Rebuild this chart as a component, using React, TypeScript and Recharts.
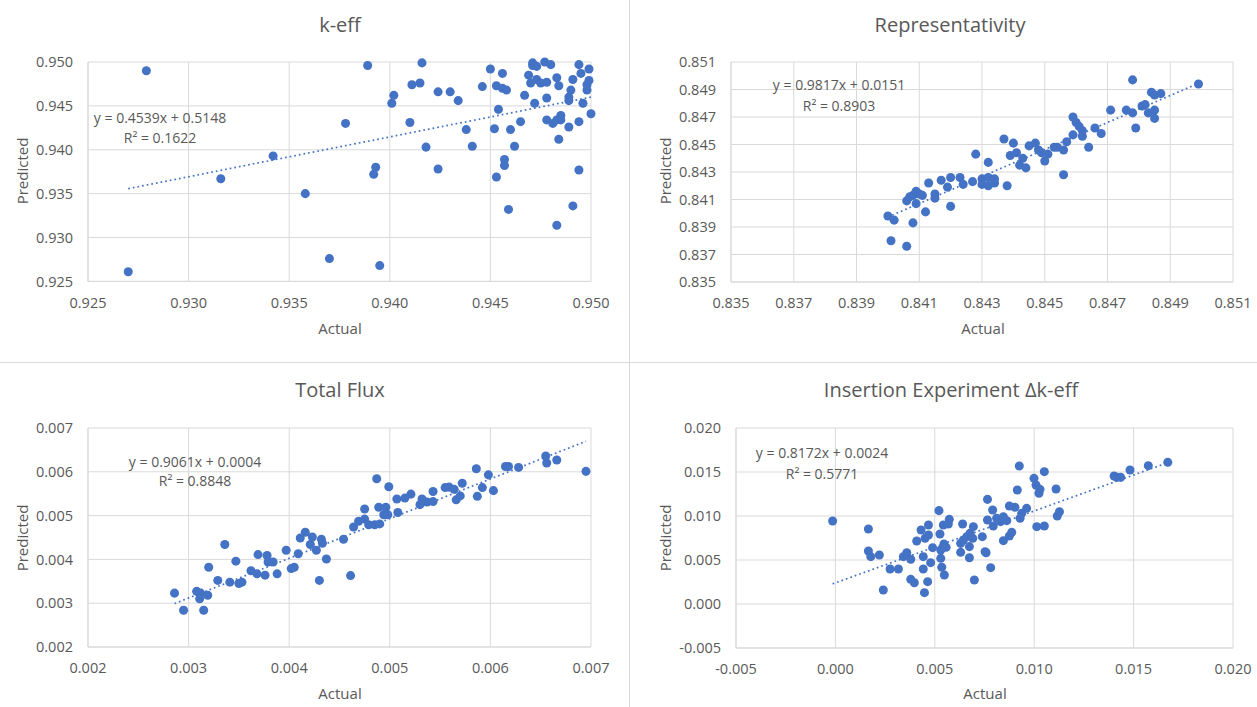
import { ScatterChart, Scatter, XAxis, YAxis, ZAxis, CartesianGrid } from "recharts";

const BLUE = "#4472C4";
const GRID = "#d9d9d9";
const TEXT = "#595959";
const FONT = "'Open Sans', 'Noto Sans', sans-serif";

// [actual, predicted]
const keffPoints: [number, number][] = [
  [0.9279, 0.949], [0.9389, 0.9496], [0.9378, 0.943], [0.9342, 0.9393], [0.9316, 0.9367], [0.9358, 0.935],
  [0.937, 0.9276], [0.927, 0.9261], [0.9416, 0.9499], [0.9402, 0.9462], [0.9401, 0.9453], [0.9411, 0.9474],
  [0.9415, 0.9476], [0.941, 0.9431], [0.9424, 0.9466], [0.943, 0.9466], [0.9434, 0.9456], [0.9418, 0.9403],
  [0.9438, 0.9423], [0.9441, 0.9404], [0.9424, 0.9378], [0.9393, 0.938], [0.9392, 0.9372], [0.9395, 0.9268],
  [0.945, 0.9492], [0.9456, 0.9487], [0.9446, 0.9472], [0.9453, 0.9473], [0.9456, 0.947], [0.9458, 0.9468],
  [0.9454, 0.9446], [0.9452, 0.9424], [0.946, 0.9423], [0.9465, 0.9432], [0.9462, 0.9404], [0.9457, 0.9389],
  [0.9457, 0.9382], [0.9453, 0.9369], [0.9459, 0.9332], [0.9471, 0.9499], [0.9471, 0.9496], [0.9473, 0.9495],
  [0.9477, 0.95], [0.948, 0.9497], [0.9469, 0.9485], [0.947, 0.9476], [0.9473, 0.948], [0.9475, 0.9476],
  [0.9478, 0.9477], [0.9483, 0.9482], [0.9484, 0.9473], [0.9467, 0.9462], [0.9472, 0.9453], [0.9478, 0.9459],
  [0.9478, 0.9434], [0.9481, 0.943], [0.9483, 0.9434], [0.9485, 0.9439], [0.9485, 0.9434], [0.9489, 0.9426],
  [0.9484, 0.9412], [0.9494, 0.9497], [0.9499, 0.9492], [0.9495, 0.9487], [0.9491, 0.948], [0.9499, 0.9479],
  [0.9498, 0.9474], [0.949, 0.9468], [0.9498, 0.9468], [0.9489, 0.946], [0.9489, 0.9456], [0.9496, 0.9453],
  [0.95, 0.9441], [0.9494, 0.9432], [0.9494, 0.9377], [0.9491, 0.9336], [0.9483, 0.9314],
];

const repPoints: [number, number][] = [
  [0.84, 0.8398], [0.8402, 0.8395], [0.8401, 0.838], [0.8406, 0.8376], [0.8408, 0.8393], [0.8406, 0.8409],
  [0.8407, 0.8412], [0.8408, 0.8413], [0.8409, 0.8416], [0.841, 0.8414], [0.8411, 0.8413], [0.8409, 0.8407],
  [0.8412, 0.8401], [0.8415, 0.8414], [0.8415, 0.8411], [0.8413, 0.8422], [0.8417, 0.8424], [0.8419, 0.8419],
  [0.842, 0.8405], [0.842, 0.8426], [0.8423, 0.8426], [0.8424, 0.8421], [0.8427, 0.8423], [0.843, 0.8425],
  [0.843, 0.8421], [0.8432, 0.842], [0.8432, 0.8426], [0.8434, 0.8422], [0.8434, 0.8425], [0.8432, 0.8437],
  [0.8438, 0.842], [0.8428, 0.8443], [0.8437, 0.8454], [0.844, 0.8451], [0.8439, 0.8442], [0.8441, 0.8444],
  [0.8443, 0.844], [0.8442, 0.8435], [0.8444, 0.8433], [0.8445, 0.8449], [0.8447, 0.8451], [0.8448, 0.8446],
  [0.8449, 0.8444], [0.8451, 0.8443], [0.845, 0.8438], [0.8453, 0.8448], [0.8454, 0.8448], [0.8456, 0.8446],
  [0.8456, 0.8428], [0.8457, 0.8452], [0.8459, 0.8457], [0.8459, 0.847], [0.846, 0.8466], [0.8461, 0.8463],
  [0.8462, 0.846], [0.8462, 0.8456], [0.8464, 0.8448], [0.8466, 0.8462], [0.8468, 0.8458], [0.8471, 0.8475],
  [0.8476, 0.8475], [0.8478, 0.8473], [0.8479, 0.8462], [0.8478, 0.8497], [0.8481, 0.8478], [0.8482, 0.8479],
  [0.8483, 0.8473], [0.8485, 0.8475], [0.8485, 0.8469], [0.8484, 0.8488], [0.8485, 0.8486], [0.8487, 0.8487],
  [0.8499, 0.8494],
];

const fluxPoints: [number, number][] = [
  [0.00286, 0.00323], [0.00295, 0.00284], [0.00308, 0.00327], [0.00312, 0.00323], [0.00311, 0.0031],
  [0.00319, 0.00318], [0.00315, 0.00284], [0.0032, 0.00382], [0.00329, 0.00352], [0.00336, 0.00434],
  [0.00341, 0.00348], [0.00347, 0.00396], [0.0035, 0.00345], [0.00353, 0.00348], [0.00362, 0.00374],
  [0.00369, 0.00411], [0.00368, 0.00367], [0.00376, 0.00364], [0.00378, 0.00409], [0.00379, 0.00394],
  [0.00384, 0.00394], [0.00388, 0.00367], [0.00397, 0.00421], [0.00402, 0.00379], [0.00405, 0.00382],
  [0.00409, 0.00413], [0.00411, 0.00449], [0.00416, 0.00462], [0.00423, 0.00451], [0.00421, 0.00434],
  [0.00427, 0.00421], [0.00432, 0.00446], [0.00433, 0.00437], [0.0043, 0.00352], [0.00437, 0.00401],
  [0.00454, 0.00446], [0.00461, 0.00363], [0.00464, 0.00474], [0.00469, 0.00487], [0.00475, 0.00492],
  [0.00475, 0.00515], [0.00479, 0.00479], [0.00485, 0.00479], [0.0049, 0.00481], [0.00487, 0.00584],
  [0.00489, 0.00519], [0.00496, 0.00519], [0.00494, 0.00502], [0.00498, 0.00502], [0.00499, 0.00566],
  [0.00507, 0.00538], [0.00508, 0.00507], [0.00515, 0.0054], [0.00521, 0.00549], [0.0053, 0.00525],
  [0.00532, 0.00538], [0.00537, 0.00531], [0.00543, 0.00532], [0.00543, 0.00555], [0.00555, 0.00564],
  [0.00559, 0.00565], [0.00564, 0.0056], [0.00566, 0.00536], [0.0057, 0.00545], [0.00572, 0.00574],
  [0.00586, 0.00607], [0.00587, 0.00544], [0.00592, 0.00564], [0.00598, 0.00593], [0.00603, 0.00557],
  [0.00615, 0.00612], [0.00618, 0.00612], [0.00628, 0.0061], [0.00655, 0.00636], [0.00656, 0.0062],
  [0.00666, 0.00627], [0.00695, 0.00601],
];

const dkPoints: [number, number][] = [
  [-0.00014, 0.00943], [0.00166, 0.00852], [0.00166, 0.00602], [0.00178, 0.00538], [0.00221, 0.00557],
  [0.00241, 0.00159], [0.00275, 0.00398], [0.00317, 0.00398], [0.00342, 0.00538], [0.00359, 0.00583],
  [0.00379, 0.00508], [0.00379, 0.0028], [0.00397, 0.00242], [0.00409, 0.00716], [0.00431, 0.00841],
  [0.00442, 0.00538], [0.00442, 0.00398], [0.00448, 0.00129], [0.00451, 0.00746], [0.00464, 0.00254],
  [0.00468, 0.00898], [0.00468, 0.00784], [0.00479, 0.0047], [0.00489, 0.0064], [0.00521, 0.01061],
  [0.00526, 0.00795], [0.0053, 0.00614], [0.0053, 0.00519], [0.00535, 0.00417], [0.00548, 0.0033],
  [0.00546, 0.00682], [0.00543, 0.00898], [0.00557, 0.00644], [0.00573, 0.00962], [0.00568, 0.00909],
  [0.0063, 0.00689], [0.0063, 0.00587], [0.0064, 0.00909], [0.00644, 0.00727], [0.00661, 0.00765],
  [0.00674, 0.00652], [0.00677, 0.00803], [0.00694, 0.00879], [0.00691, 0.00746], [0.00699, 0.00273],
  [0.00739, 0.00765], [0.00753, 0.00595], [0.00765, 0.01189], [0.00765, 0.00955], [0.00674, 0.00526],
  [0.00758, 0.00583], [0.00781, 0.00413], [0.00791, 0.01068], [0.00794, 0.00886], [0.00811, 0.00974],
  [0.00831, 0.00936], [0.00845, 0.00992], [0.00862, 0.00947], [0.00845, 0.0072], [0.00875, 0.00773],
  [0.00887, 0.00814], [0.00875, 0.01114], [0.00903, 0.01099], [0.00915, 0.01295], [0.00929, 0.00974],
  [0.00925, 0.01568], [0.00937, 0.0103], [0.00962, 0.01087], [0.00999, 0.01428], [0.01013, 0.00879],
  [0.01009, 0.01352], [0.01029, 0.01303], [0.01024, 0.01258], [0.01051, 0.01504], [0.01051, 0.00886],
  [0.0111, 0.01307], [0.01116, 0.01], [0.01127, 0.01049], [0.01402, 0.01455], [0.01415, 0.01439],
  [0.01435, 0.01439], [0.01482, 0.01523], [0.01574, 0.01572], [0.01672, 0.0161],
];

// linear trendlines: [slope, intercept]
const keffFit = [0.4539, 0.5148];
const repFit = [0.9817, 0.0151];
const fluxFit = [0.9061, 0.0004];
const dkFit = [0.8172, 0.0024];

const keffTicks = [0.925, 0.93, 0.935, 0.94, 0.945, 0.95];
const repTicks = [0.835, 0.837, 0.839, 0.841, 0.843, 0.845, 0.847, 0.849, 0.851];
const fluxTicks = [0.002, 0.003, 0.004, 0.005, 0.006, 0.007];
const dkTicks = [-0.005, 0, 0.005, 0.01, 0.015, 0.02];

const fmt = (v: number) => v.toFixed(3);
const noDot = () => <g />;

type Box = { left: number; top: number; width: number; height: number };

function Panel({ pts, fit, ticks, box }: { pts: [number, number][]; fit: number[]; ticks: number[]; box: Box }) {
  const data = pts.map(([x, y]) => ({ x, y }));
  const xs = pts.map((p) => p[0]);
  const trend = [Math.min(...xs), Math.max(...xs)].map((x) => ({ x, y: fit[0] * x + fit[1] }));
  const W = 80, T = 20, R = 30, H = 40;
  const domain = [ticks[0], ticks[ticks.length - 1]];
  const tick = { fill: TEXT, fontSize: 14.5, fontFamily: FONT };
  return (
    <div style={{ position: "absolute", left: box.left - W, top: box.top - T }}>
      <ScatterChart width={box.width + W + R} height={box.height + T + H} margin={{ top: T, right: R, bottom: 0, left: 0 }}>
        <CartesianGrid stroke={GRID} />
        <XAxis type="number" dataKey="x" domain={domain} ticks={ticks} tickFormatter={fmt} interval={0}
          stroke={GRID} tickLine={false} tick={tick} tickMargin={10} height={H} />
        <YAxis type="number" dataKey="y" domain={domain} ticks={ticks} tickFormatter={fmt} interval={0}
          stroke={GRID} tickLine={false} tick={tick} tickMargin={9} width={W} />
        <ZAxis range={[52, 52]} />
        <Scatter data={data} fill={BLUE} isAnimationActive={false} />
        <Scatter data={trend} line={{ stroke: BLUE, strokeWidth: 1.7, strokeDasharray: "1.7 3" }}
          shape={noDot} isAnimationActive={false} />
      </ScatterChart>
    </div>
  );
}

const Txt = ({ x, y, size, children, rotate }: { x: number; y: number; size: number; children: any; rotate?: boolean }) => (
  <div style={{
    position: "absolute", left: x, top: y, transform: `translate(-50%, -50%)${rotate ? " rotate(-90deg)" : ""}`,
    fontFamily: FONT, fontSize: size, color: TEXT, whiteSpace: "nowrap", lineHeight: 1,
  }}>{children}</div>
);

export default function App() {
  return (
    <div style={{ position: "absolute", left: 0, top: 0, width: 1257, height: 707, background: "#fff", overflow: "hidden" }}>
      <div style={{ position: "absolute", left: 629, top: 0, width: 1, height: 707, background: GRID }} />
      <div style={{ position: "absolute", left: 0, top: 362, width: 1257, height: 1, background: GRID }} />

      <Panel pts={keffPoints} fit={keffFit} ticks={keffTicks} box={{ left: 88, top: 61.6, width: 503, height: 219.4 }} />
      <Panel pts={repPoints} fit={repFit} ticks={repTicks} box={{ left: 731, top: 61.7, width: 502, height: 220 }} />
      <Panel pts={fluxPoints} fit={fluxFit} ticks={fluxTicks} box={{ left: 88, top: 428, width: 503, height: 219 }} />
      <Panel pts={dkPoints} fit={dkFit} ticks={dkTicks} box={{ left: 736, top: 428, width: 497, height: 220 }} />

      <Txt x={340} y={25} size={20}>k-eff</Txt>
      <Txt x={950} y={25} size={20}>Representativity</Txt>
      <Txt x={340} y={390} size={20}>Total Flux</Txt>
      <Txt x={951} y={390} size={20}>Insertion Experiment Δk-eff</Txt>

      <Txt x={340} y={328} size={15}>Actual</Txt>
      <Txt x={983} y={328} size={15}>Actual</Txt>
      <Txt x={340} y={693} size={15}>Actual</Txt>
      <Txt x={985} y={693} size={15}>Actual</Txt>
      <Txt x={22} y={171} size={15} rotate>Predicted</Txt>
      <Txt x={665} y={171} size={15} rotate>Predicted</Txt>
      <Txt x={22} y={538} size={15} rotate>Predicted</Txt>
      <Txt x={665} y={538} size={15} rotate>Predicted</Txt>

      <Txt x={160} y={118} size={14}>y = 0.4539x + 0.5148</Txt>
      <Txt x={160} y={138} size={14}>R² = 0.1622</Txt>
      <Txt x={839} y={85} size={14}>y = 0.9817x + 0.0151</Txt>
      <Txt x={839} y={106} size={14}>R² = 0.8903</Txt>
      <Txt x={195} y={462} size={14}>y = 0.9061x + 0.0004</Txt>
      <Txt x={195} y={481} size={14}>R² = 0.8848</Txt>
      <Txt x={822} y={453} size={14}>y = 0.8172x + 0.0024</Txt>
      <Txt x={822} y={474} size={14}>R² = 0.5771</Txt>
    </div>
  );
}
